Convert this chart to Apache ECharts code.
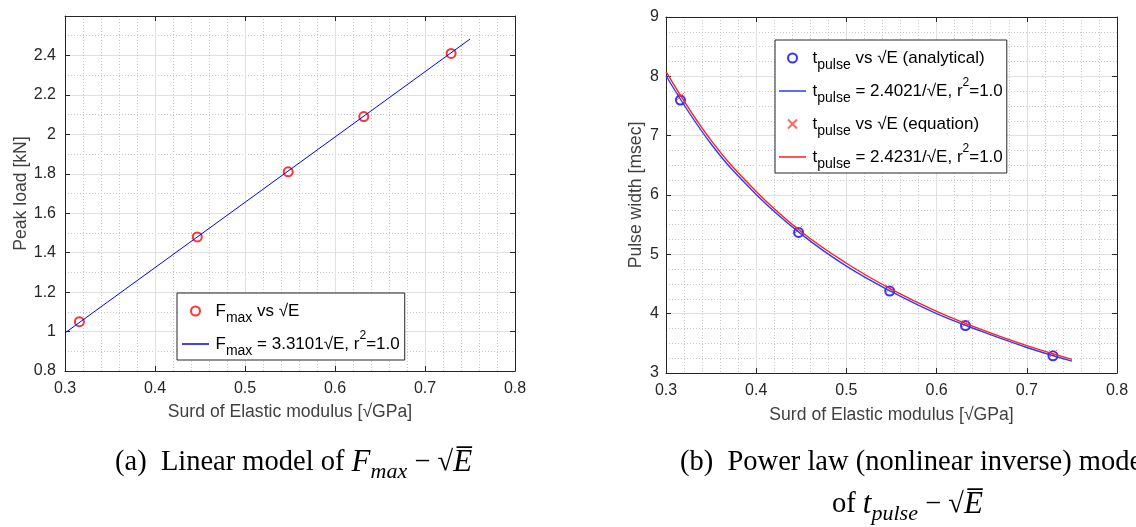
<!DOCTYPE html>
<html>
<head>
<meta charset="utf-8">
<script src="https://cdn.jsdelivr.net/npm/echarts@6/dist/echarts.min.js"></script>
<style>html,body{margin:0;padding:0;background:#fff;}#c{width:1136px;height:527px;}</style>
</head>
<body>
<div id="c"></div>
<script>
// ---- data ----
const sqrtE = [0.316, 0.447, 0.548, 0.632, 0.729];
const Fmax = [1.05, 1.48, 1.81, 2.09, 2.41];
const fitLinX = [0.30, 0.75];
const fitLinF = [0.993, 2.483];
const tAnalytical = [7.60, 5.37, 4.38, 3.80, 3.29];
const tEquation = [7.66, 5.42, 4.42, 3.83, 3.32];
const curveX = [0.30, 0.35, 0.40, 0.45, 0.50, 0.55, 0.60, 0.65, 0.70, 0.75];
const curveBlue = [8.01, 6.86, 6.01, 5.34, 4.80, 4.37, 4.00, 3.70, 3.43, 3.20];
const curveRed = [8.08, 6.92, 6.06, 5.38, 4.85, 4.41, 4.04, 3.73, 3.46, 3.23];

const SANS = "'Liberation Sans', Arial, Helvetica, sans-serif";
const SERIF = "'Liberation Serif', 'Times New Roman', serif";
const AX = '#262626';
const zip = (a, b) => a.map((v, i) => [v, b[i]]);

function mainX(grid, name, gap) {
  return {
    gridIndex: grid, type: 'value', min: 0.3, max: 0.8, interval: 0.1, position: 'bottom',
    axisLine: {show: true, onZero: false, lineStyle: {color: AX, width: 1}},
    axisTick: {show: true, inside: true, length: 5, lineStyle: {color: AX}},
    axisLabel: {fontSize: 16, color: AX, fontFamily: SANS, margin: 10},
    splitLine: {show: true, lineStyle: {color: '#e0e0e0', width: 1}},
    minorTick: {show: false, splitNumber: 5},
    minorSplitLine: {show: true, lineStyle: {color: '#c8c8c8', type: [1, 2], width: 1}},
    name: name, nameLocation: 'middle', nameGap: gap, nameMoveOverlap: false,
    nameTextStyle: {fontSize: 17.6, color: '#404040', fontFamily: SANS}
  };
}
function sideX(grid) {
  return {
    gridIndex: grid, type: 'value', min: 0.3, max: 0.8, interval: 0.1, position: 'top',
    axisLine: {show: true, onZero: false, lineStyle: {color: AX, width: 1}},
    axisTick: {show: true, inside: true, length: 5, lineStyle: {color: AX}},
    axisLabel: {show: false}, splitLine: {show: false}
  };
}
function mainY(grid, min, max, interval, minor, name, gap, margin) {
  return {
    gridIndex: grid, type: 'value', min: min, max: max, interval: interval, position: 'left',
    axisLine: {show: true, onZero: false, lineStyle: {color: AX, width: 1}},
    axisTick: {show: true, inside: true, length: 5, lineStyle: {color: AX}},
    axisLabel: {fontSize: 16, color: AX, fontFamily: SANS, margin: margin, showMaxLabel: max === 9},
    splitLine: {show: true, lineStyle: {color: '#e0e0e0', width: 1}},
    minorTick: {show: false, splitNumber: minor},
    minorSplitLine: {show: true, lineStyle: {color: '#c8c8c8', type: [1, 2], width: 1}},
    name: name, nameLocation: 'middle', nameGap: gap, nameMoveOverlap: false,
    nameTextStyle: {fontSize: 17.6, color: '#404040', fontFamily: SANS}
  };
}
function sideY(grid, min, max, interval) {
  return {
    gridIndex: grid, type: 'value', min: min, max: max, interval: interval, position: 'right',
    axisLine: {show: true, onZero: false, lineStyle: {color: AX, width: 1}},
    axisTick: {show: true, inside: true, length: 5, lineStyle: {color: AX}},
    axisLabel: {show: false}, splitLine: {show: false}
  };
}

const legendRich = {
  m: {fontSize: 17, fontFamily: SANS, color: '#000', lineHeight: 28},
  s: {fontSize: 14, fontFamily: SANS, color: '#000', lineHeight: 12, verticalAlign: 'bottom'},
  p: {fontSize: 12, fontFamily: SANS, color: '#000', lineHeight: 18, verticalAlign: 'top'}
};
const legendText = {
  'Fmax pts': '{m|F}{s|max}{m| vs \u221AE}{p| }',
  'Fmax fit': '{m|F}{s|max}{m| = 3.3101\u221AE, r}{p|2}{m|=1.0}',
  'ta pts': '{m|t}{s|pulse}{m| vs \u221AE (analytical)}{p| }',
  'ta fit': '{m|t}{s|pulse}{m| = 2.4021/\u221AE, r}{p|2}{m|=1.0}',
  'te pts': '{m|t}{s|pulse}{m| vs \u221AE (equation)}{p| }',
  'te fit': '{m|t}{s|pulse}{m| = 2.4231/\u221AE, r}{p|2}{m|=1.0}'
};
const lineColors = {'Fmax fit': '#0000ff', 'ta fit': '#2b3bff', 'te fit': '#ff2020'};
// thin horizontal bar icon (tiny corner specks keep the bar thin inside the icon box)
const LINE_ICON = 'path://M0,0L0.1,0L0,0.1Z M0,4.2L30,4.2L30,5.8L0,5.8Z M30,10L29.9,10L30,9.9Z';
function legendCfg(names, left, top, pad) {
  return {
    data: names.map(n => lineColors[n]
      ? {name: n, icon: LINE_ICON, itemStyle: {color: lineColors[n], borderWidth: 0}}
      : {name: n}),
    left: left, top: top, orient: 'vertical',
    itemWidth: 30, itemHeight: 9, itemGap: 5, padding: pad,
    borderColor: AX, borderWidth: 1, backgroundColor: '#fff',
    selectedMode: false,
    formatter: n => legendText[n],
    textStyle: {rich: legendRich, fontFamily: SANS, fontSize: 17, color: '#000'}
  };
}

const capRich = {
  r: {fontSize: 28.5, fontFamily: SERIF, fontWeight: 'normal', color: '#000', lineHeight: 40},
  i: {fontSize: 31, fontFamily: SERIF, fontWeight: 'normal', fontStyle: 'italic', color: '#000', lineHeight: 40},
  is: {fontSize: 22, fontFamily: SERIF, fontWeight: 'normal', fontStyle: 'italic', color: '#000', lineHeight: 16, verticalAlign: 'bottom'}
};
const capStyle = {rich: capRich, fontWeight: 'normal'};

const option = {
  backgroundColor: '#fff',
  animation: false,
  title: [
    {left: 115, top: 443, padding: 0, text: '{r|(a)  Linear model of }{i|F}{is|max}{r| \u2212 \u221A}{i|E\u0305}', textStyle: capStyle},
    {left: 680, top: 443, padding: 0, text: '{r|(b)  Power law (nonlinear inverse) model}', textStyle: capStyle},
    {left: 832, top: 485, padding: 0, text: '{r|of }{i|t}{is|pulse}{r| \u2212 \u221A}{i|E\u0305}', textStyle: capStyle}
  ],
  grid: [
    {left: 65, top: 16, width: 450, height: 355},
    {left: 666, top: 17, width: 451, height: 356}
  ],
  xAxis: [
    mainX(0, 'Surd of Elastic modulus [\u221AGPa]', 32), sideX(0),
    mainX(1, 'Surd of Elastic modulus [\u221AGPa]', 33), sideX(1)
  ],
  yAxis: [
    mainY(0, 0.8, 2.6, 0.2, 2, 'Peak load [kN]', 35, 9), sideY(0, 0.8, 2.6, 0.2),
    mainY(1, 3, 9, 1, 4, 'Pulse width [msec]', 21, 7), sideY(1, 3, 9, 1)
  ],
  legend: [
    legendCfg(['Fmax pts', 'Fmax fit'], 177, 293, [4, 5, 2, 5]),
    legendCfg(['ta pts', 'ta fit', 'te pts', 'te fit'], 775, 40, [4, 4, 2, 4])
  ],
  series: [
    {name: 'Fmax pts', type: 'scatter', xAxisIndex: 0, yAxisIndex: 0, data: zip(sqrtE, Fmax),
     symbol: 'emptyCircle', symbolSize: 9, itemStyle: {color: '#ff0000', borderColor: '#ff0000', borderWidth: 1}},
    {name: 'Fmax fit', type: 'line', xAxisIndex: 0, yAxisIndex: 0, data: zip(fitLinX, fitLinF),
     symbol: 'none', showSymbol: false, lineStyle: {color: '#0000ff', width: 1}, itemStyle: {color: '#0000ff'}},
    {name: 'ta pts', type: 'scatter', xAxisIndex: 2, yAxisIndex: 2, data: zip(sqrtE, tAnalytical),
     symbol: 'emptyCircle', symbolSize: 9, itemStyle: {color: '#0000ff', borderColor: '#0000ff', borderWidth: 1}},
    {name: 'ta fit', type: 'line', xAxisIndex: 2, yAxisIndex: 2, data: zip(curveX, curveBlue), smooth: 0.4,
     symbol: 'none', showSymbol: false, lineStyle: {color: '#2b3bff', width: 1.4}, itemStyle: {color: '#2b3bff'}},
    {name: 'te pts', type: 'scatter', xAxisIndex: 2, yAxisIndex: 2, data: zip(sqrtE, tEquation),
     symbol: 'path://M0,0L10,10M10,0L0,10', symbolSize: 8,
     itemStyle: {color: 'rgba(0,0,0,0)', borderColor: '#ff4040', borderWidth: 1}},
    {name: 'te fit', type: 'line', xAxisIndex: 2, yAxisIndex: 2, data: zip(curveX, curveRed), smooth: 0.4,
     symbol: 'none', showSymbol: false, lineStyle: {color: '#ff2020', width: 1.4}, itemStyle: {color: '#ff2020'}}
  ]
};
const chart = echarts.init(document.getElementById('c'), null, {renderer: 'canvas'});
chart.setOption(option);
</script>
</body>
</html>
